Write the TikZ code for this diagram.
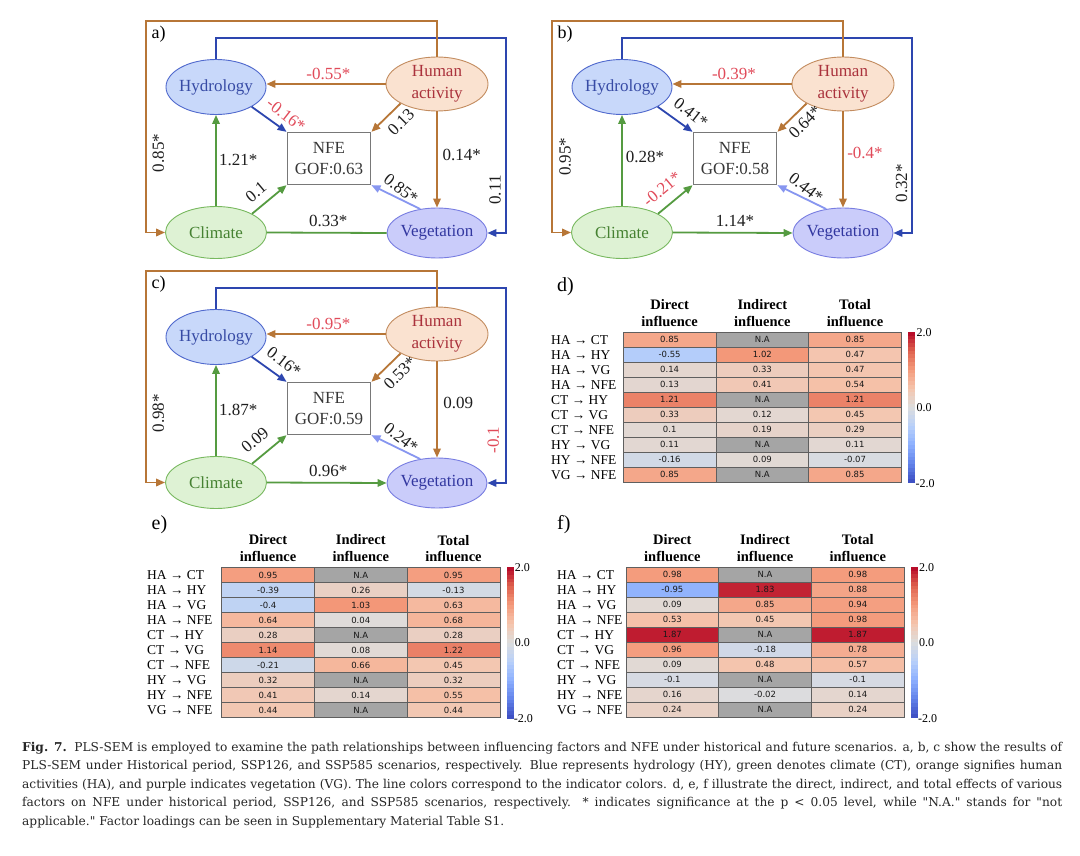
\documentclass[tikz,border=0pt]{standalone}
\usepackage{fontspec}
\setmainfont{Liberation Serif}
\newfontfamily\dvsans{DejaVu Sans}
\newfontfamily\capfont{DejaVu Serif}[Ligatures=TeXOff]
\usetikzlibrary{arrows.meta,shapes.geometric}

\definecolor{orline}{RGB}{183,118,55}
\definecolor{blline}{RGB}{45,70,175}
\definecolor{grline}{RGB}{85,155,65}
\definecolor{puline}{RGB}{135,150,240}
\definecolor{hyfill}{RGB}{200,216,250}
\definecolor{hydraw}{RGB}{80,105,205}
\definecolor{hytext}{RGB}{55,75,165}
\definecolor{hafill}{RGB}{250,226,208}
\definecolor{hadraw}{RGB}{195,140,95}
\definecolor{hatext}{RGB}{170,50,60}
\definecolor{ctfill}{RGB}{222,242,212}
\definecolor{ctdraw}{RGB}{120,185,95}
\definecolor{cttext}{RGB}{70,130,50}
\definecolor{vgfill}{RGB}{202,204,250}
\definecolor{vgdraw}{RGB}{120,125,225}
\definecolor{vgtext}{RGB}{50,55,160}
\definecolor{nfedraw}{RGB}{120,120,120}
\definecolor{nfetext}{RGB}{55,55,55}
\definecolor{lblred}{RGB}{225,75,90}
\definecolor{lblblk}{RGB}{30,30,30}
\definecolor{nagray}{RGB}{165,165,165}
\definecolor{cellline}{RGB}{95,95,95}

\def\cwR{{59,98,141,184,221,245,244,222,180}}
\def\cwG{{76,130,176,208,221,196,154,96,4}}
\def\cwB{{192,234,254,249,221,172,123,77,38}}
\newcommand\cwset[1]{%
  \pgfmathsetmacro\cws{max(0,min(7.999,(#1+2)*2))}%
  \pgfmathtruncatemacro\cwi{floor(\cws)}%
  \pgfmathtruncatemacro\cwj{\cwi+1}%
  \pgfmathsetmacro\cwf{\cws-\cwi}%
  \pgfmathtruncatemacro\cwr{round(\cwR[\cwi]*(1-\cwf)+\cwR[\cwj]*\cwf)}%
  \pgfmathtruncatemacro\cwg{round(\cwG[\cwi]*(1-\cwf)+\cwG[\cwj]*\cwf)}%
  \pgfmathtruncatemacro\cwb{round(\cwB[\cwi]*(1-\cwf)+\cwB[\cwj]*\cwf)}%
  \definecolor{cw}{RGB}{\cwr,\cwg,\cwb}%
}

\tikzset{
  nodefont/.style={font=\fontsize{17}{21.5}\selectfont},
  ellbase/.style={ellipse, line width=0.9pt, inner xsep=-2pt, inner ysep=0pt, align=center, nodefont},
  hyst/.style={ellbase, fill=hyfill, draw=hydraw, text=hytext, minimum width=100pt, minimum height=55pt},
  hast/.style={ellbase, fill=hafill, draw=hadraw, text=hatext, minimum width=102pt, minimum height=54pt},
  ctst/.style={ellbase, fill=ctfill, draw=ctdraw, text=cttext, minimum width=101pt, minimum height=52pt},
  vgst/.style={ellbase, fill=vgfill, draw=vgdraw, text=vgtext, minimum width=100pt, minimum height=50pt},
  nfest/.style={rectangle, draw=nfedraw, fill=white, line width=1.3pt, text=nfetext, align=center, nodefont, minimum width=83.5pt, minimum height=52pt, inner sep=0pt},
  tip/.style={-{Triangle[length=9pt,width=7.5pt]}},
  orl/.style={draw=orline, line width=1.8pt, tip},
  bll/.style={draw=blline, line width=1.8pt, tip},
  grl/.style={draw=grline, line width=1.8pt, tip},
  pul/.style={draw=puline, line width=1.8pt, tip},
  lbl/.style={font=\fontsize{17}{20}\selectfont, inner sep=0pt, text=lblblk},
  rlbl/.style={lbl, text=lblred},
  plbl/.style={font=\fontsize{18}{20}\selectfont, inner sep=0pt, anchor=west, text=black},
  tlet/.style={font=\fontsize{20}{22}\selectfont, inner sep=0pt, anchor=west, text=black},
  hdr/.style={font=\bfseries\fontsize{14.5}{16.7}\selectfont, align=center, inner sep=0pt, text=black},
  rowlbl/.style={font=\fontsize{13.5}{15}\selectfont, anchor=west, inner sep=0pt, text=black},
  cellst/.style={rectangle, draw=cellline, line width=0.6pt, minimum width=92.7pt, minimum height=15pt, inner sep=0pt, font=\dvsans\fontsize{8.5}{10}\selectfont, text=black!90},
  cblbl/.style={font=\fontsize{12}{14}\selectfont, anchor=west, inner sep=0pt, text=black},
}

\newcommand\semframe[4]{%
  \node[plbl] (#1lab) at (151.5,34) {#2};
  \node[hyst] (#1hy) at (216,87) {Hydrology};
  \node[hast] (#1ha) at (437,84) {Human\\activity};
  \node[nfest] (#1nfe) at (329,158.5) {NFE\\GOF:#3};
  \node[ctst] (#1ct) at (216,232.5) {Climate};
  \node[vgst] (#1vg) at (437,233) {Vegetation};
  \coordinate (#1tl) at (146,21);
  \coordinate (#1tr) at (506,38);
  \draw[bll] (#1hy.north) |- (#1tr) |- (#1vg.east);
  \draw[orl] (#1ha.north) |- (#1tl) |- (#1ct.west);
  \draw[orl] (#1ha.west) -- (#1ha.west -| #1hy.east);
  \draw[orl] (#1ha.south west) -- (#1nfe.north east);
  \draw[orl] (#1ha.south) -- (#1ha.south |- #1vg.north);
  \draw[bll] (#1hy.south east) -- (#1nfe.north west);
  \draw[grl] (#1ct.north) -- (#1hy.south);
  \draw[grl] (#1ct.north east) -- (#1nfe.south west);
  \draw[grl,#4] (#1ct.east) -- (#1vg.west);
  \draw[pul] (#1vg.125) -- (#1nfe.south east);
}

\newcommand\hcell[3]{%
  \def\hval{#3}\def\hna{NA}%
  \ifx\hval\hna
    \colorlet{cw}{nagray}\def\htxt{N.A}%
  \else
    \cwset{#3}\def\htxt{#3}%
  \fi
  \node[cellst,fill=cw] (\tid c#1r#2) at ({#1*92.7+46.35},{#2*15+7.5}) {\htxt};%
}
\newcommand\hrow[5]{%
  \node[rowlbl] (\tid l#1) at (\rlx,{#1*15+7.5}) {#2};%
  \hcell{0}{#1}{#3}\hcell{1}{#1}{#4}\hcell{2}{#1}{#5}%
}
\newcommand\heatframe[2]{%
  \def\tid{#1}\def\rlx{#2}%
  \node[hdr] (#1h1) at (46.35,-19.5) {Direct\\influence};
  \node[hdr] (#1h2) at (139.05,-19.5) {Indirect\\influence};
  \node[hdr] (#1h3) at (231.75,-19) {Total\\influence};
  \foreach \k in {0,...,39}{%
    \pgfmathsetmacro\vv{1.95-\k*0.1}\cwset{\vv}%
    \fill[cw] (285,{\k*3.78-0.5}) rectangle (292,{\k*3.78+3.4});
  }
  \node[cblbl] (#1t1) at (293,0) {2.0};
  \node[cblbl] (#1t2) at (293,75) {0.0};
  \node[cblbl] (#1t3) at (292,151) {-2.0};
}

\begin{document}
\begin{tikzpicture}[x=1pt,y=-1pt]
\path[use as bounding box, fill=white] (0,0) rectangle (1080,856);

% ---------- panel a ----------
\begin{scope}
  \semframe{a}{a)}{0.63}{-}
  \node[rlbl] (aL1) at (328.3,74) {-0.55*};
  \node[rlbl, rotate=-38] (aL2) at (286,115) {-0.16*};
  \node[lbl, rotate=45] (aL3) at (401,122) {0.13};
  \node[lbl] (aL4) at (238.3,160) {1.21*};
  \node[lbl] (aL5) at (461.7,155) {0.14*};
  \node[lbl, rotate=90] (aL6) at (495,190) {0.11};
  \node[lbl, rotate=90] (aL7) at (158.3,153) {0.85*};
  \node[lbl, rotate=40] (aL8) at (256,192) {0.1};
  \node[lbl, rotate=-38] (aL9) at (401,189) {0.85*};
  \node[lbl] (aL10) at (328.3,221) {0.33*};
\end{scope}

% ---------- panel b ----------
\begin{scope}[shift={(406,0)}]
  \semframe{b}{b)}{0.58}{tip}
  \node[rlbl] (bL1) at (328,74) {-0.39*};
  \node[lbl, rotate=-38] (bL2) at (285,113) {0.41*};
  \node[lbl, rotate=45] (bL3) at (399,122) {0.64*};
  \node[lbl] (bL4) at (239,156.7) {0.28*};
  \node[rlbl] (bL5) at (459,153.3) {-0.4*};
  \node[lbl, rotate=90] (bL6) at (495.7,183.3) {0.32*};
  \node[lbl, rotate=90] (bL7) at (159,156.7) {0.95*};
  \node[rlbl, rotate=40] (bL8) at (256,189) {-0.21*};
  \node[lbl, rotate=-38] (bL9) at (400,188) {0.44*};
  \node[lbl] (bL10) at (329,221) {1.14*};
\end{scope}

% ---------- panel c ----------
\begin{scope}[shift={(0,250)}]
  \semframe{c}{c)}{0.59}{tip}
  \node[rlbl] (cL1) at (328.3,74) {-0.95*};
  \node[lbl, rotate=-38] (cL2) at (284,112) {0.16*};
  \node[lbl, rotate=45] (cL3) at (400,123) {0.53*};
  \node[lbl] (cL4) at (238.3,160) {1.87*};
  \node[lbl] (cL5) at (458.3,153.3) {0.09};
  \node[rlbl, rotate=90] (cL6) at (493.3,190) {-0.1};
  \node[lbl, rotate=90] (cL7) at (158.3,163.3) {0.98*};
  \node[lbl, rotate=40] (cL8) at (255,190) {0.09};
  \node[lbl, rotate=-38] (cL9) at (401,188) {0.24*};
  \node[lbl] (cL10) at (328.3,221) {0.96*};
\end{scope}

% ---------- table letters ----------
\node[tlet] (dlet) at (557,286.7) {d)};
\node[tlet] (elet) at (151.5,525) {e)};
\node[tlet] (flet) at (557,525) {f)};

% ---------- table d ----------
\begin{scope}[shift={(623.3,332.3)}]
  \heatframe{d}{-72.3}
  \hrow{0}{HA → CT}{0.85}{NA}{0.85}
  \hrow{1}{HA → HY}{-0.55}{1.02}{0.47}
  \hrow{2}{HA → VG}{0.14}{0.33}{0.47}
  \hrow{3}{HA → NFE}{0.13}{0.41}{0.54}
  \hrow{4}{CT → HY}{1.21}{NA}{1.21}
  \hrow{5}{CT → VG}{0.33}{0.12}{0.45}
  \hrow{6}{CT → NFE}{0.1}{0.19}{0.29}
  \hrow{7}{HY → VG}{0.11}{NA}{0.11}
  \hrow{8}{HY → NFE}{-0.16}{0.09}{-0.07}
  \hrow{9}{VG → NFE}{0.85}{NA}{0.85}
\end{scope}

% ---------- table e ----------
\begin{scope}[shift={(221.7,567.7)}]
  \heatframe{e}{-74.7}
  \hrow{0}{HA → CT}{0.95}{NA}{0.95}
  \hrow{1}{HA → HY}{-0.39}{0.26}{-0.13}
  \hrow{2}{HA → VG}{-0.4}{1.03}{0.63}
  \hrow{3}{HA → NFE}{0.64}{0.04}{0.68}
  \hrow{4}{CT → HY}{0.28}{NA}{0.28}
  \hrow{5}{CT → VG}{1.14}{0.08}{1.22}
  \hrow{6}{CT → NFE}{-0.21}{0.66}{0.45}
  \hrow{7}{HY → VG}{0.32}{NA}{0.32}
  \hrow{8}{HY → NFE}{0.41}{0.14}{0.55}
  \hrow{9}{VG → NFE}{0.44}{NA}{0.44}
\end{scope}

% ---------- table f ----------
\begin{scope}[shift={(626,567.3)}]
  \heatframe{f}{-69}
  \hrow{0}{HA → CT}{0.98}{NA}{0.98}
  \hrow{1}{HA → HY}{-0.95}{1.83}{0.88}
  \hrow{2}{HA → VG}{0.09}{0.85}{0.94}
  \hrow{3}{HA → NFE}{0.53}{0.45}{0.98}
  \hrow{4}{CT → HY}{1.87}{NA}{1.87}
  \hrow{5}{CT → VG}{0.96}{-0.18}{0.78}
  \hrow{6}{CT → NFE}{0.09}{0.48}{0.57}
  \hrow{7}{HY → VG}{-0.1}{NA}{-0.1}
  \hrow{8}{HY → NFE}{0.16}{-0.02}{0.14}
  \hrow{9}{VG → NFE}{0.24}{NA}{0.24}
\end{scope}

% ---------- caption ----------
\node[anchor=north west, inner sep=0pt, text width=1040pt, align=justify, font=\capfont\fontsize{12.2}{18.5}\selectfont, text=black!85] (cap) at (22,742)
{\textbf{Fig. 7.}\hspace{0.6em}PLS-SEM is employed to examine the path relationships between influencing factors and NFE under historical and future scenarios. a, b, c show the results of\linebreak
PLS-SEM under Historical period, SSP126, and SSP585 scenarios, respectively. Blue represents hydrology (HY), green denotes climate (CT), orange signifies human\linebreak
activities (HA), and purple indicates vegetation (VG). The line colors correspond to the indicator colors. d, e, f illustrate the direct, indirect, and total effects of various\linebreak
factors on NFE under historical period, SSP126, and SSP585 scenarios, respectively. * indicates significance at the p < 0.05 level, while "N.A." stands for "not\linebreak
applicable." Factor loadings can be seen in Supplementary Material Table S1.};
\end{tikzpicture}
\end{document}
